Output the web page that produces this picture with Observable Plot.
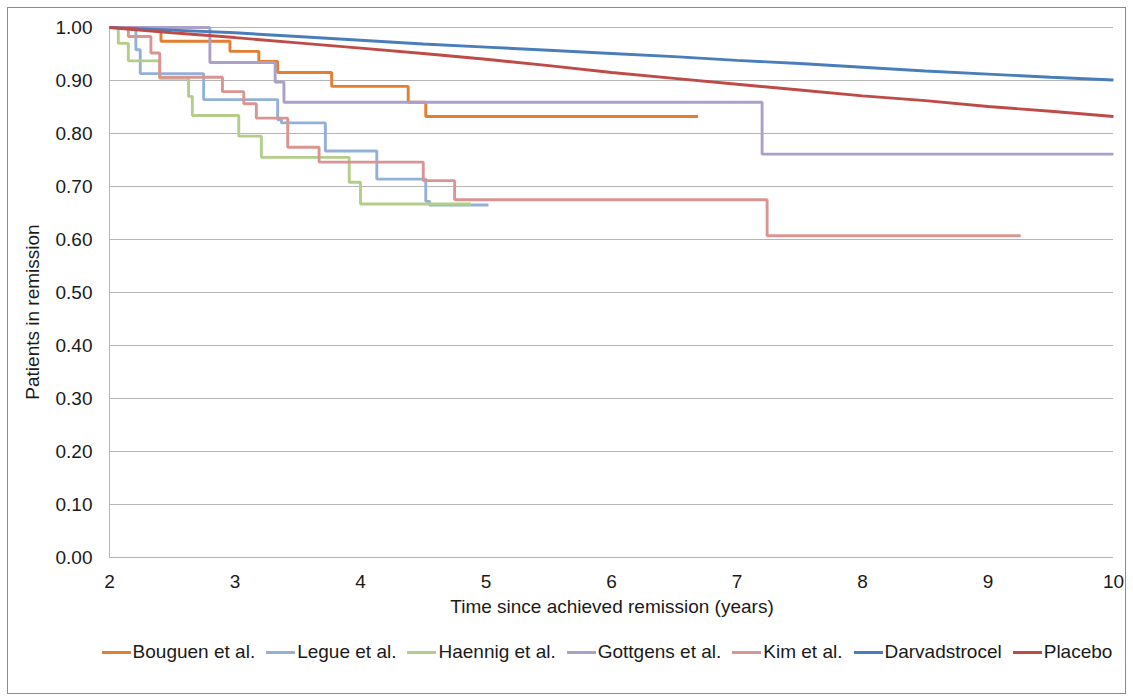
<!DOCTYPE html>
<html>
<head>
<meta charset="utf-8">
<script src="https://cdn.jsdelivr.net/npm/d3@7"></script>
<script src="https://cdn.jsdelivr.net/npm/@observablehq/plot@0.6"></script>
<style>
  html, body { margin: 0; padding: 0; background: #fff; }
  body { font-family: "Liberation Sans", Arial, sans-serif; color: #1a1a1a; }
  #wrap { position: relative; width: 1133px; height: 697px; overflow: hidden; }
  #frame { position: absolute; left: 7px; top: 7px; width: 1119px; height: 687px; border: 1px solid #8c8c8c; box-sizing: border-box; }
  #chart { position: absolute; left: 0; top: 0; }
  #ylabel { position: absolute; left: 33px; top: 312px; transform: translate(-50%, -50%) rotate(-90deg); font-size: 19px; white-space: nowrap; }
  #xlabel { position: absolute; left: 612px; top: 607px; transform: translate(-50%, -50%); font-size: 19px; white-space: nowrap; }
  #legend { position: absolute; left: 95px; width: 1024px; top: 641px; display: flex; justify-content: center; align-items: center; font-size: 19px; white-space: nowrap; }
  .item { display: flex; align-items: center; margin: 0 5.5px; }
  .sw { width: 29px; height: 3px; margin-right: 2px; }
</style>
</head>
<body>
<div id="wrap">
  <div id="frame"></div>
  <div id="chart"></div>
  <div id="ylabel">Patients in remission</div>
  <div id="xlabel">Time since achieved remission (years)</div>
  <div id="legend"></div>
</div>
<script>
// ---- Data ----
const seriesNames = ["Bouguen et al.", "Legue et al.", "Haennig et al.", "Gottgens et al.", "Kim et al.", "Darvadstrocel", "Placebo"];
const seriesColors = ["#E47F32", "#93B1D8", "#B3CE8A", "#ABA0C9", "#DA9593", "#4A7EBB", "#BE4B48"];
const seriesStep = [true, true, true, true, true, false, false];

const bouguenT = [2, 2.41, 2.96, 3.19, 3.34, 3.77, 4.38, 4.52, 6.69];
const bouguenV = [1.000, 0.974, 0.955, 0.936, 0.915, 0.889, 0.859, 0.832, 0.832];

const legueT = [2, 2.21, 2.245, 2.75, 3.34, 3.37, 3.72, 4.13, 4.52, 4.55, 5.02];
const legueV = [1.000, 0.958, 0.913, 0.864, 0.826, 0.820, 0.767, 0.714, 0.672, 0.665, 0.665];

const haennigT = [2, 2.07, 2.15, 2.40, 2.63, 2.66, 3.03, 3.21, 3.91, 4.00, 4.88];
const haennigV = [1.000, 0.970, 0.937, 0.904, 0.870, 0.834, 0.795, 0.755, 0.708, 0.667, 0.667];

const gottgensT = [2, 2.80, 3.32, 3.39, 7.20, 10];
const gottgensV = [1.000, 0.934, 0.897, 0.859, 0.761, 0.761];

const kimT = [2, 2.15, 2.33, 2.40, 2.90, 3.07, 3.17, 3.42, 3.67, 4.50, 4.75, 7.24, 9.26];
const kimV = [1.000, 0.983, 0.952, 0.906, 0.879, 0.856, 0.829, 0.774, 0.746, 0.711, 0.675, 0.607, 0.607];

const darvT = [2, 2.5, 3, 3.5, 4, 4.5, 5, 5.5, 6, 6.5, 7, 7.5, 8, 8.5, 9, 9.5, 10];
const darvV = [1.000, 0.995, 0.990, 0.983, 0.976, 0.969, 0.963, 0.957, 0.951, 0.945, 0.938, 0.932, 0.925, 0.918, 0.912, 0.906, 0.901];

const placeboT = [2, 2.5, 3, 3.5, 4, 4.5, 5, 5.5, 6, 6.5, 7, 7.5, 8, 8.5, 9, 9.5, 10];
const placeboV = [1.000, 0.990, 0.981, 0.971, 0.961, 0.951, 0.940, 0.928, 0.915, 0.904, 0.893, 0.882, 0.871, 0.862, 0.851, 0.842, 0.832];

const xTicks = [2, 3, 4, 5, 6, 7, 8, 9, 10];
const yTicks = [0, 0.1, 0.2, 0.3, 0.4, 0.5, 0.6, 0.7, 0.8, 0.9, 1.0];

// ---- Build table ----
const seriesT = [bouguenT, legueT, haennigT, gottgensT, kimT, darvT, placeboT];
const seriesV = [bouguenV, legueV, haennigV, gottgensV, kimV, darvV, placeboV];
const rows = seriesNames.map((name, i) => seriesT[i].map((t, j) => ({series: name, t, v: seriesV[i][j]})));

const gridColor = "#b5b5b5";

const marks = [
  Plot.gridY(yTicks, {stroke: gridColor, strokeOpacity: 1, strokeWidth: 1}),
  Plot.ruleX([2], {stroke: gridColor, strokeWidth: 1}),
  Plot.axisY({ticks: yTicks, tickSize: 0, tickPadding: 17, tickFormat: d3.format(".2f"), label: null}),
  Plot.axisX({ticks: xTicks, tickSize: 0, tickPadding: 17, tickFormat: d => String(d), label: null}),
];
rows.forEach((data, i) => {
  marks.push(Plot.line(data, {
    x: "t", y: "v", stroke: "series",
    curve: seriesStep[i] ? "step-after" : "linear",
    strokeWidth: 2.9, strokeLinejoin: "miter", strokeLinecap: "butt"
  }));
});

const chart = Plot.plot({
  width: 1133,
  height: 600,
  marginLeft: 109,
  marginRight: 20,
  marginTop: 27,
  marginBottom: 43,
  x: {domain: [2, 10]},
  y: {domain: [0, 1]},
  color: {domain: seriesNames, range: seriesColors},
  style: {fontFamily: "'Liberation Sans', Arial, sans-serif", fontSize: "19px", color: "#1a1a1a", background: "transparent", overflow: "visible"},
  marks
});
document.getElementById("chart").appendChild(chart);

// ---- Legend ----
const legend = document.getElementById("legend");
seriesNames.forEach((name, i) => {
  const item = document.createElement("div");
  item.className = "item";
  const sw = document.createElement("span");
  sw.className = "sw";
  sw.style.background = seriesColors[i];
  const label = document.createElement("span");
  label.textContent = name;
  item.appendChild(sw);
  item.appendChild(label);
  legend.appendChild(item);
});
</script>
</body>
</html>
